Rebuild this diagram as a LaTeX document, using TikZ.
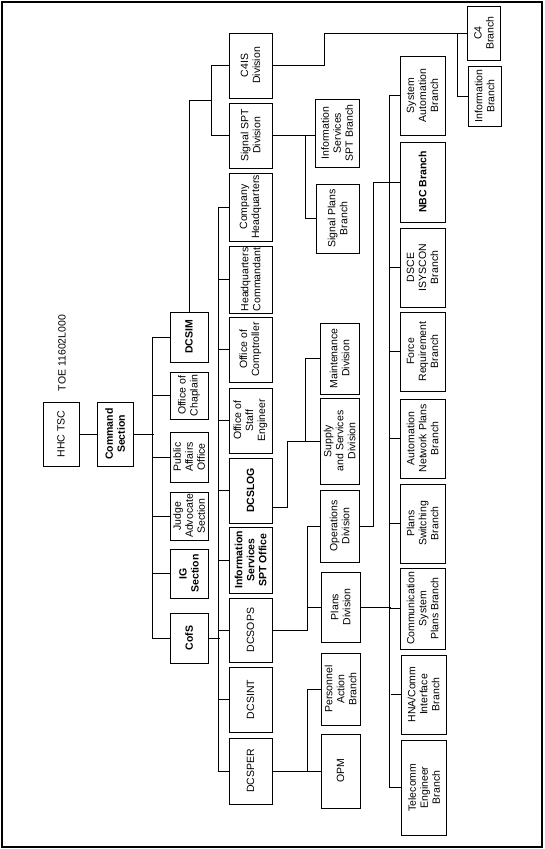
\documentclass[tikz,border=0pt]{standalone}
\usepackage{fontspec}
\setmainfont{Liberation Sans}
\usetikzlibrary{calc}

\begin{document}
\begin{tikzpicture}[x=1pt,y=-1pt,
  org/.style={draw,rotate=90,line width=1pt,align=center,inner sep=1pt,
              font=\fontsize{10.5}{12}\selectfont},
  bld/.style={font=\fontsize{10.5}{12}\selectfont\bfseries},
  sz/.style 2 args={minimum width=#1,minimum height=#2},
  ln/.style={line width=1pt}
]
\useasboundingbox (0,0) rectangle (544,849);
\draw[line width=2pt] (1.5,1.5) rectangle (541.5,847);

% top of the chart
\node[org,sz={64}{36}] (hhc) at (61,434) {HHC TSC};
\node[org,bld,sz={64}{36}] (cmd) at (115,434) {Command\\Section};
\node[rotate=90,font=\fontsize{10.5}{12}\selectfont] (toe) at (62,353) {TOE 11602L000};

% command staff
\node[org,bld,sz={50}{38}] (dcsim) at (189,337) {DCSIM};
\node[org,sz={47}{38}] (chap) at (189,395.5) {Office of\\Chaplain};
\node[org,sz={50}{38}] (pao) at (189,457) {Public\\Affairs\\Office};
\node[org,sz={48}{38}] (ja) at (189,516) {Judge\\Advocate\\Section};
\node[org,bld,sz={49}{38}] (ig) at (189,573.5) {IG\\Section};
\node[org,bld,sz={50}{38}] (cofs) at (189,638) {CofS};

% divisions and offices
\node[org,sz={65}{43}] (c4is) at (250.5,65.5) {C4IS\\Division};
\node[org,sz={65}{43}] (sigspt) at (250.5,135.5) {Signal SPT\\Division};
\node[org,sz={68}{43}] (cohq) at (250.5,207) {Company\\Headquarters};
\node[org,sz={67}{43}] (hqcmd) at (250.5,279.5) {Headquarters\\Commandant};
\node[org,sz={65}{43}] (compt) at (250.5,349.5) {Office of\\Comptroller};
\node[org,sz={65}{43}] (staffeng) at (250.5,420.5) {Office of\\Staff\\Engineer};
\node[org,bld,sz={65}{43}] (dcslog) at (250.5,490.5) {DCSLOG};
\node[org,bld,sz={66}{43}] (isoff) at (250.5,560) {Information\\Services\\SPT Office};
\node[org,sz={64}{43}] (dcsops) at (250.5,630) {DCSOPS};
\node[org,sz={65}{43}] (dcsint) at (250.5,699.5) {DCSINT};
\node[org,sz={66}{43}] (dcsper) at (250.5,771) {DCSPER};

% second level
\node[org,sz={68}{44}] (isbr) at (337,133) {Information\\Services\\SPT Branch};
\node[org,sz={69}{43}] (sigplans) at (337.5,218.5) {Signal Plans\\Branch};
\node[org,sz={71}{39}] (maint) at (339.5,358.5) {Maintenance\\Division};
\node[org,sz={86}{39}] (supply) at (339.5,441) {Supply\\and Services\\Division};
\node[org,sz={72}{39}] (ops) at (339.5,526) {Operations\\Division};
\node[org,sz={70}{39}] (plansdiv) at (340.5,607) {Plans\\Division};
\node[org,sz={72}{39}] (persact) at (340.5,689) {Personnel\\Action\\Branch};
\node[org,sz={74}{39}] (opm) at (340.5,771) {OPM};

% branches
\node[org,sz={79}{45}] (sysauto) at (422.5,95.5) {System\\Automation\\Branch};
\node[org,bld,sz={80}{45}] (nbc) at (422.5,182) {NBC Branch};
\node[org,sz={79}{45}] (dsce) at (422.5,267.5) {DSCE\\ISYSCON\\Branch};
\node[org,sz={79}{45}] (forcereq) at (422.5,351.5) {Force\\Requirement\\Branch};
\node[org,sz={79}{45}] (autonet) at (422.5,438.5) {Automation\\Network Plans\\Branch};
\node[org,sz={79}{45}] (plsw) at (422.5,523.5) {Plans\\Switching\\Branch};
\node[org,sz={81}{45}] (commsys) at (422.5,608.5) {Communication\\System\\Plans Branch};
\node[org,sz={79}{45}] (hna) at (423.5,694.5) {HNA/Comm\\Interface\\Branch};
\node[org,sz={95}{45}] (telecomm) at (424,787.5) {Telecomm\\Engineer\\Branch};
\node[org,sz={54}{33}] (c4br) at (484,33) {C4\\Branch};
\node[org,sz={60}{33}] (infobr) at (484.5,96) {Information\\Branch};

% connectors
\draw[ln] (hhc.south) -- (cmd.north);
\draw[ln] (cmd.south) -- ++(20,0);
\draw[ln] (dcsim.north) -- ++(-17,0) |- (cofs.north);
\foreach \n in {chap,pao,ja,ig} \draw[ln] (\n.north) -- ++(-17,0);
\draw[ln] (c4is.north) -- ++(-17,0) |- (sigspt.north);
\draw[ln] (dcsim.east) |- ($(c4is.north)!.5!(sigspt.north)+(-17,0)$);
\draw[ln] (cohq.north) -- ++(-10,0) |- (dcsper.north);
\foreach \n in {hqcmd,compt,staffeng,dcslog,isoff,dcsops,dcsint}
  \draw[ln] (\n.north) -- ++(-10,0);
\draw[ln] (cofs.south) -- ++(11,0);
\draw[ln] (c4is.south) -- ++(52,0) |- (c4br.north);
\draw[ln] (infobr.north) -- ++(-10,0) |- (c4br.north);
\draw[ln] (sigspt.south) -- (sigspt.south -| isbr.north);
\draw[ln] ([xshift=33pt]sigspt.south) |- (sigplans.north);
\draw[ln] ([yshift=-17pt]dcslog.south) -- ++(15,0) |- (supply.north);
\draw[ln] (maint.north) -- ++(-14,0) |- (supply.north);
\draw[ln] (dcsops.south) -- ++(35,0) |- (ops.north);
\draw[ln] (plansdiv.north) -- ++(-14,0);
\draw[ln] (dcsper.south) -- (opm.north);
\draw[ln] (persact.north) -- ++(-13,0) |- (opm.north);
\draw[ln] (sysauto.north) -- ++(-10,0) |- (telecomm.north);
\foreach \n in {dsce,forcereq,autonet,plsw,commsys,hna}
  \draw[ln] (\n.north) -- ++(-10,0);
\draw[ln] (ops.south) -- ++(14,0) |- (nbc.north);
\draw[ln] (plansdiv.south) -- ++(30,0);
\end{tikzpicture}
\end{document}
